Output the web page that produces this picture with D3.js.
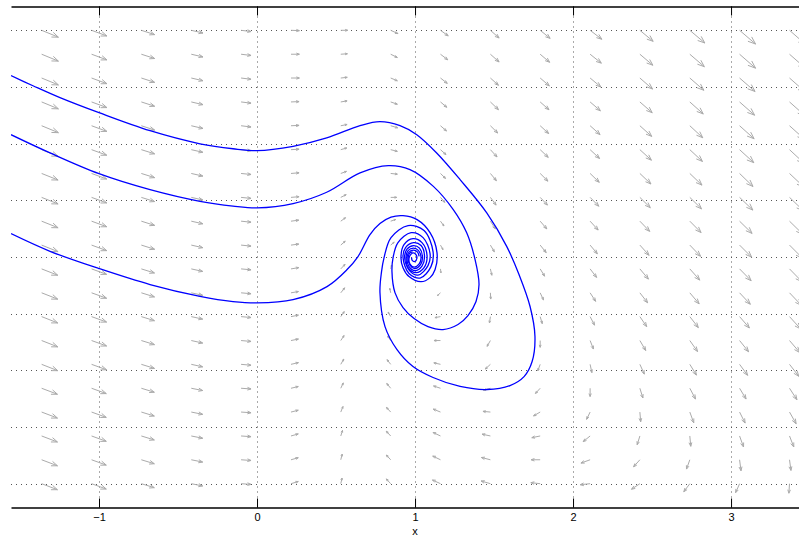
<!DOCTYPE html>
<html><head><meta charset="utf-8">
<script src="https://cdn.jsdelivr.net/npm/d3@7"></script>
<style>html,body{margin:0;padding:0;background:#fff;} svg{display:block;}</style>
</head><body>
<svg id="chart" width="799" height="537"></svg>
<script>
// ---------- data ----------
const xTicks = [-1, 0, 1, 2, 3];
const yGrid = [-2, -1.5, -1, -0.5, 0, 0.5, 1, 1.5, 2];
// quiver sample positions
const gridX = [-1.363, -1.047, -0.732, -0.416, -0.101, 0.215, 0.530, 0.846, 1.161, 1.477, 1.792, 2.108, 2.423, 2.739, 3.054, 3.370];
const gridY = [2, 1.789, 1.579, 1.368, 1.158, 0.947, 0.737, 0.526, 0.316, 0.105, -0.105, -0.316, -0.526, -0.737, -0.947, -1.158, -1.368, -1.579, -1.789, -2];
// field components (one row per gridY value, one column per gridX value)
const U = [
 [1.06,0.97,0.84,0.74,0.63,0.53,0.44,0.46,0.49,0.55,0.63,0.74,0.84,0.95,1.01,1.08],
 [1.06,0.97,0.84,0.74,0.63,0.53,0.42,0.42,0.46,0.55,0.60,0.71,0.82,0.92,1.01,1.08],
 [1.06,0.97,0.84,0.74,0.63,0.53,0.41,0.42,0.43,0.51,0.58,0.68,0.80,0.89,0.98,1.04],
 [1.06,0.97,0.84,0.74,0.63,0.51,0.40,0.42,0.40,0.51,0.56,0.65,0.78,0.85,0.95,1.01],
 [1.06,0.97,0.84,0.74,0.63,0.51,0.40,0.44,0.38,0.46,0.54,0.63,0.75,0.82,0.92,0.98],
 [1.04,0.96,0.84,0.73,0.63,0.51,0.38,0.42,0.35,0.42,0.51,0.60,0.73,0.80,0.90,0.95],
 [1.04,0.96,0.84,0.73,0.63,0.51,0.36,0.42,0.32,0.38,0.49,0.58,0.70,0.77,0.85,0.92],
 [1.04,0.96,0.84,0.73,0.63,0.51,0.34,0.38,0.27,0.36,0.46,0.55,0.66,0.74,0.84,0.89],
 [1.04,0.96,0.84,0.73,0.63,0.49,0.30,0.32,0.22,0.32,0.42,0.51,0.62,0.71,0.79,0.85],
 [1.04,0.96,0.84,0.73,0.63,0.49,0.28,0.22,0.16,0.25,0.38,0.46,0.58,0.68,0.76,0.82],
 [1.02,0.95,0.83,0.72,0.63,0.49,0.27,0.06,0.03,0.09,0.28,0.41,0.54,0.63,0.73,0.79],
 [1.02,0.95,0.83,0.72,0.63,0.47,0.25,-0.06,-0.19,0.02,0.21,0.35,0.49,0.59,0.68,0.75],
 [1.02,0.95,0.83,0.72,0.63,0.47,0.22,-0.16,-0.35,-0.06,0.13,0.28,0.43,0.54,0.62,0.70],
 [1.02,0.95,0.83,0.72,0.63,0.47,0.21,-0.19,-0.41,-0.21,0,0.21,0.37,0.49,0.57,0.65],
 [1.02,0.95,0.83,0.72,0.63,0.47,0.19,-0.23,-0.42,-0.32,-0.15,0.11,0.28,0.42,0.51,0.59],
 [1.00,0.93,0.82,0.72,0.63,0.46,0.16,-0.25,-0.44,-0.44,-0.30,0,0.19,0.36,0.41,0.47],
 [1.00,0.93,0.82,0.72,0.63,0.46,0.14,-0.27,-0.46,-0.47,-0.42,-0.22,0.05,0.25,0.35,0.42],
 [1.00,0.93,0.82,0.72,0.63,0.46,0.11,-0.28,-0.47,-0.53,-0.53,-0.44,-0.17,0.06,0.25,0.27],
 [1.00,0.93,0.82,0.72,0.63,0.46,0.09,-0.28,-0.49,-0.57,-0.57,-0.58,-0.40,-0.21,0.09,0.09],
 [1.00,0.93,0.82,0.72,0.63,0.46,0.08,-0.28,-0.51,-0.59,-0.59,-0.63,-0.53,-0.38,-0.25,-0.04]
];
const V = [
 [-0.61,-0.50,-0.38,-0.24,-0.11,-0.03,0,-0.29,-0.49,-0.68,-0.71,-0.79,-0.97,-1.12,-1.21,-1.32],
 [-0.61,-0.50,-0.38,-0.24,-0.11,0,0.04,-0.29,-0.49,-0.68,-0.71,-0.79,-0.97,-1.10,-1.23,-1.32],
 [-0.61,-0.50,-0.38,-0.24,-0.11,0,0.06,-0.24,-0.47,-0.64,-0.69,-0.79,-0.97,-1.08,-1.19,-1.28],
 [-0.61,-0.50,-0.38,-0.24,-0.11,0.03,0.09,-0.20,-0.47,-0.68,-0.69,-0.78,-0.95,-1.06,-1.17,-1.25],
 [-0.61,-0.50,-0.38,-0.24,-0.11,0.03,0.11,-0.18,-0.46,-0.64,-0.69,-0.78,-0.94,-1.06,-1.15,-1.23],
 [-0.58,-0.49,-0.37,-0.23,-0.09,0.04,0.15,-0.15,-0.44,-0.64,-0.68,-0.78,-0.93,-1.04,-1.15,-1.23],
 [-0.58,-0.49,-0.37,-0.23,-0.09,0.06,0.18,-0.06,-0.44,-0.64,-0.68,-0.78,-0.93,-1.03,-1.15,-1.21],
 [-0.58,-0.49,-0.37,-0.23,-0.09,0.06,0.24,0,-0.44,-0.68,-0.68,-0.78,-0.91,-1.01,-1.12,-1.19],
 [-0.58,-0.49,-0.37,-0.23,-0.09,0.09,0.31,0.15,-0.42,-0.68,-0.68,-0.78,-0.90,-1.00,-1.08,-1.16],
 [-0.58,-0.49,-0.37,-0.23,-0.09,0.09,0.35,0.26,-0.40,-0.59,-0.66,-0.77,-0.90,-0.99,-1.06,-1.15],
 [-0.56,-0.48,-0.36,-0.22,-0.08,0.11,0.40,0.35,-0.35,-0.56,-0.64,-0.75,-0.90,-0.99,-1.04,-1.13],
 [-0.56,-0.48,-0.36,-0.22,-0.08,0.11,0.44,0.40,-0.24,-0.55,-0.63,-0.75,-0.88,-0.97,-1.01,-1.10],
 [-0.56,-0.48,-0.36,-0.22,-0.08,0.13,0.44,0.40,-0.09,-0.56,-0.62,-0.75,-0.88,-0.97,-1.00,-1.08],
 [-0.56,-0.48,-0.36,-0.22,-0.08,0.13,0.44,0.40,0,-0.51,-0.60,-0.75,-0.88,-0.97,-0.99,-1.06],
 [-0.56,-0.48,-0.36,-0.22,-0.08,0.15,0.46,0.41,0.13,-0.41,-0.57,-0.73,-0.86,-0.95,-0.97,-1.06],
 [-0.53,-0.47,-0.35,-0.20,-0.06,0.15,0.47,0.42,0.20,-0.18,-0.46,-0.73,-0.86,-0.95,-0.95,-1.01],
 [-0.53,-0.47,-0.35,-0.20,-0.06,0.16,0.49,0.41,0.26,0.06,-0.34,-0.64,-0.86,-0.95,-0.97,-1.03],
 [-0.53,-0.47,-0.35,-0.20,-0.06,0.18,0.49,0.42,0.31,0.16,-0.15,-0.50,-0.77,-0.91,-0.97,-0.97],
 [-0.53,-0.47,-0.35,-0.20,-0.06,0.18,0.50,0.42,0.33,0.20,0,-0.29,-0.62,-0.82,-0.97,-0.94],
 [-0.53,-0.47,-0.35,-0.20,-0.06,0.19,0.50,0.42,0.33,0.24,0.09,-0.09,-0.49,-0.71,-0.79,-0.84]
];
const quiverScale = 0.1;

// trajectories [x, y]
const trajA = [[-1.557,1.600],[-1.418,1.511],[-1.247,1.406],[-1.000,1.273],[-0.677,1.114],[-0.361,0.999],[-0.152,0.955],[0.000,0.938],[0.228,0.976],[0.441,1.050],[0.652,1.159],[0.778,1.194],[0.905,1.159],[1.011,1.079],[1.137,0.918],[1.285,0.683],[1.454,0.389],[1.580,0.094],[1.658,-0.155],[1.728,-0.437],[1.759,-0.701],[1.741,-0.922],[1.690,-1.055],[1.601,-1.134],[1.456,-1.169],[1.285,-1.142],[1.114,-1.063],[0.987,-0.966],[0.886,-0.817],[0.810,-0.614],[0.778,-0.314],[0.788,-0.129],[0.804,-0.005],
 [0.848,0.171],[0.956,0.277],[1.057,0.233],[1.114,0.048],[1.101,-0.085],[1.032,-0.186],[0.962,-0.146],[0.924,-0.005],[0.940,0.083],[0.991,0.127],[1.038,0.101],[1.060,0.004],[1.044,-0.080],[1.000,-0.120],[0.962,-0.085],[0.949,-0.010],[0.962,0.043],[0.991,0.061],[1.016,0.043],[1.026,0.005]];
const trajB = [[-1.557,1.079],[-1.310,0.918],[-1.000,0.735],[-0.677,0.594],[-0.361,0.491],[-0.152,0.449],[0.000,0.433],[0.228,0.471],[0.441,0.571],[0.652,0.742],[0.831,0.806],[0.968,0.771],[1.116,0.623],[1.242,0.418],[1.327,0.213],[1.380,-0.023],[1.405,-0.243],[1.386,-0.393],[1.335,-0.517],[1.272,-0.596],[1.177,-0.640],[1.082,-0.614],[0.994,-0.543],[0.924,-0.446],[0.873,-0.314],[0.854,-0.129],[0.861,-0.005],
 [0.892,0.127],[0.975,0.215],[1.051,0.171],[1.095,0.030],[1.082,-0.076],[1.019,-0.160],[0.965,-0.120],[0.934,-0.005],[0.949,0.070],[0.991,0.101],[1.028,0.078],[1.047,-0.001],[1.035,-0.067],[0.997,-0.102],[0.968,-0.071],[0.956,-0.010],[0.967,0.034],[0.985,0.045]];
const trajC = [[-1.557,0.206],[-1.310,0.050],[-1.000,-0.102],[-0.677,-0.243],[-0.361,-0.347],[-0.152,-0.393],[0.000,-0.405],[0.228,-0.376],[0.443,-0.261],[0.570,-0.111],[0.639,0.004],[0.715,0.198],[0.778,0.295],[0.848,0.352],[0.924,0.365],
 [1.013,0.330],[1.095,0.215],[1.139,0.039],[1.127,-0.111],[1.095,-0.182],[1.038,-0.218],[0.962,-0.173],[0.924,-0.094],[0.911,-0.005],[0.930,0.109],[0.987,0.162],[1.044,0.127],[1.076,0.012],[1.057,-0.093],[1.006,-0.138],[0.956,-0.093],[0.943,-0.005],[0.956,0.056],[0.991,0.078],[1.022,0.056],[1.038,-0.005],[1.025,-0.063],[0.994,-0.089],[0.968,-0.063],[0.962,-0.010],[0.972,0.021],[0.991,0.036],[1.006,0.021],[1.012,-0.010],[0.998,-0.040],[0.982,-0.030],[0.978,-0.005]];
const trajectories = [trajA, trajB, trajC];
const xLabel = "x";

// ---------- drawing ----------
const svg = d3.select("#chart");
const xs = d3.scaleLinear().domain([-1.557, 3.430]).range([11, 799]);
const ys = d3.scaleLinear().domain([-2.21, 2.21]).range([507.5, 6.5]);
const [x0, x1] = xs.range();
const [yb, yt] = ys.range();

svg.append("defs").append("clipPath").attr("id", "plotclip")
  .append("rect").attr("x", x0).attr("y", yt).attr("width", x1 - x0).attr("height", yb - yt);

// grid
const grid = svg.append("g").attr("stroke", "#555").attr("stroke-width", 1).attr("stroke-dasharray", "1,4");
grid.selectAll("line.v").data(xTicks).join("line").attr("class", "v")
  .attr("x1", d => Math.round(xs(d)) + 0.5).attr("x2", d => Math.round(xs(d)) + 0.5)
  .attr("y1", yt).attr("y2", yb);
grid.selectAll("line.h").data(yGrid).join("line").attr("class", "h")
  .attr("y1", d => Math.round(ys(d)) + 0.5).attr("y2", d => Math.round(ys(d)) + 0.5)
  .attr("x1", x0).attr("x2", x1);

// quiver
const arrows = [];
gridY.forEach((gy, i) => gridX.forEach((gx, j) => arrows.push({gx, gy, u: U[i][j], v: V[i][j]})));
const ha = 0.36, hb = 0.38;
svg.append("g").attr("clip-path", "url(#plotclip)")
  .attr("fill", "none").attr("stroke", "#ababab").attr("stroke-width", 1)
  .selectAll("path").data(arrows).join("path")
  .attr("d", d => {
    const tx = xs(d.gx), ty = ys(d.gy);
    const hx = xs(d.gx + quiverScale * d.u), hy = ys(d.gy + quiverScale * d.v);
    const dx = hx - tx, dy = hy - ty;
    const p1x = hx - ha * (dx + hb * dy), p1y = hy - ha * (dy - hb * dx);
    const p2x = hx - ha * (dx - hb * dy), p2y = hy - ha * (dy + hb * dx);
    return `M${tx},${ty}L${hx},${hy}M${p1x},${p1y}L${hx},${hy}L${p2x},${p2y}`;
  });

// trajectories
const lineGen = d3.line().x(d => xs(d[0])).y(d => ys(d[1])).curve(d3.curveCatmullRom.alpha(0.5));
svg.append("g").attr("clip-path", "url(#plotclip)")
  .selectAll("path").data(trajectories).join("path")
  .attr("d", lineGen).attr("fill", "none").attr("stroke", "#0000ff").attr("stroke-width", 1.3);

// axes
const fontFam = "'Liberation Sans', Arial, Helvetica, sans-serif";
const bottomAxis = svg.append("g").attr("transform", `translate(0,${yb})`)
  .call(d3.axisBottom(xs).tickValues(xTicks).tickFormat(d3.format("d")).tickSizeInner(-9).tickSizeOuter(0).tickPadding(6));
const topAxis = svg.append("g").attr("transform", `translate(0,${yt})`)
  .call(d3.axisTop(xs).tickValues(xTicks).tickSizeInner(-9).tickSizeOuter(0).tickFormat(""));
[bottomAxis, topAxis].forEach(g => {
  g.select(".domain").attr("stroke", "#000").attr("stroke-width", 1.6);
  g.selectAll(".tick line").attr("stroke", "#000").attr("stroke-width", 1);
  g.selectAll(".tick text").attr("font-family", fontFam).attr("font-size", 11).attr("fill", "#000");
});
svg.append("text").attr("x", xs(1)).attr("y", 535).attr("text-anchor", "middle")
  .attr("font-family", fontFam).attr("font-size", 11).text(xLabel);
</script>
</body></html>
